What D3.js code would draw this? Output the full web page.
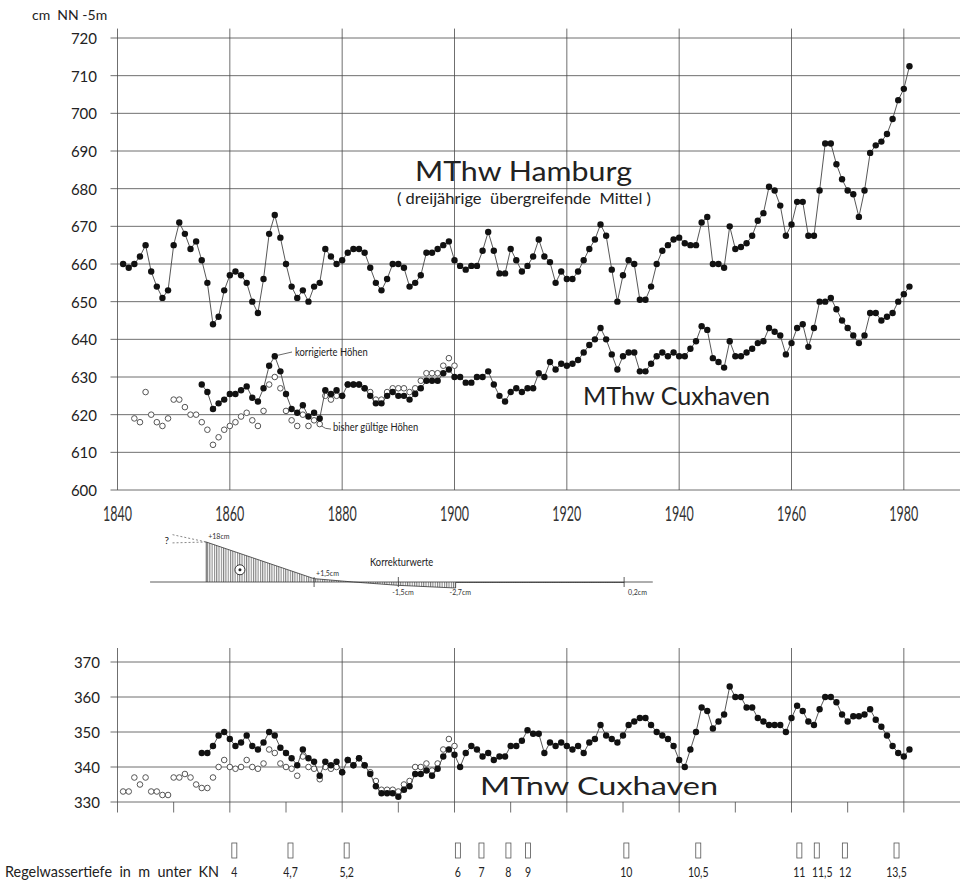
<!DOCTYPE html>
<html><head><meta charset="utf-8">
<script src="https://cdn.jsdelivr.net/npm/d3@7"></script>
<style>body{margin:0;background:#fff}svg{display:block}</style>
</head><body>
<svg id="chart" width="965" height="888"></svg>
<script>
// Mean tidal high water Hamburg (3-year running means), cm above NN-5m
const hamburgStart = 1841;
const hamburgHW = [
  660,659,660,662,665,658,654,651,653,665,
  671,668,664,666,661,655,644,646,653,657,
  658,657,655,650,647,656,668,673,667,660,
  654,651,653,650,654,655,664,662,660,661,
  663,664,664,663,659,655,653,656,660,660,
  659,654,655,657,663,663,664,665,666,661,
  659.5,658.5,659.5,659.5,663.5,668.5,663.5,657.5,657.5,664,
  661,658,659.5,662,666.5,662,660.5,655,658,656,
  656,658,661,664,666.5,670.5,667.5,658.5,650,657,
  661,660,650.5,650.5,654,660,663.5,665,666.5,667,
  665.5,665,665,671,672.5,660,660,659,670,664,
  664.5,665.5,667.5,671.5,673.5,680.5,679.5,675.5,667.5,670.5,
  676.5,676.5,667.5,667.5,679.5,692,692,686.5,682.5,679.5,
  678.5,672.5,679.5,689.5,691.5,692.5,694.5,698.5,703.5,706.5,
  712.5
];
// Mean tidal high water Cuxhaven, corrected heights
const cuxHWStart = 1855;
const cuxHW = [
  628,626,621.5,623,624,625.5,625.5,626.5,627.5,624.5,
  623.5,627,633,635.5,631.5,625.5,621.5,620.5,622.5,619.5,
  620.5,619,626.5,625.5,626.5,625,628,628,628,627,
  625,623,623,625,626,625,625,624,625.5,627,
  629,629,629,631,632,630,630,628.5,628.5,630,
  630,631.5,628,625,623.5,626,627,626,627,627,
  631,630,634,632,633.5,633,633.5,634.5,636.5,638.5,
  640,643,640,636,632,635.5,636.5,636.5,631.5,631.5,
  633.5,635.5,636.5,635.5,636.5,635.5,635.5,637.5,639.5,643.5,
  642.5,635,634,632.5,639.5,635.5,635.5,636.5,637.5,639,
  639.5,643,642,641,636,639,643,644,638,643,
  650,650,651,648,645,643,641,639,641,647,
  647,645,646,647,650,652,654
];
// Mean tidal high water Cuxhaven, previously valid heights
const cuxHWOldStart = 1843;
const cuxHWOld = [
  619,618,626,620,618,617,619,624,624,622,
  620,620,618,616,612,614,616,617,618,619.5,
  620.5,618.5,617,621,628,630,627,621,618.5,617,
  620,617,618.5,617.5,625,624,625,625,628,628,
  628,627,626,624,624,626,627,627,627,626,
  627,629,631,631,631,633,635,633
];
// Mean tidal low water Cuxhaven, corrected heights
const cuxNWStart = 1855;
const cuxNW = [
  344,344,346,349,350,348,346,347,349,346,
  345,347,350,349,345.5,344,342.5,340.5,345,342.5,
  341.5,337.5,341.5,340.5,341.5,338.5,342,340.5,342.5,340.5,
  338,334.5,332.5,332.5,332.5,331.5,333.5,334.5,338,338,
  339,337.5,339.5,343,345,343.5,340,344,346,345,
  343,344,342,343,343,346,346,347.5,350.5,349.5,
  349.5,344,347,346,347,346,345,346,344,347,
  348,352,349,348,347,349,352,353,354,354,
  352,350,349,348,346,342,340,345,350,357,
  356,351,353,355,363,360,360,357,357,354,
  353,352,352,352,350,354,357.5,356,353,352,
  356.5,360,360,358.5,355,353,354.5,354.5,355,356.5,
  353.5,351.5,349,346,344,343,345
];
// Mean tidal low water Cuxhaven, previously valid heights
const cuxNWOldStart = 1841;
const cuxNWOld = [
  333,333,337,335,337,333,333,332,332,337,
  337,338,337,335,334,334,337,340,342,340,
  339.5,340,342,340,339.5,341,345,344,341,340,
  339.5,337.5,343,340,339.5,336.5,340,339.5,340,338.5,
  342,340.5,342.5,340.5,338.5,336,333.5,333.5,333.5,333,
  335,336,340,340,341,339,341,345,348,346
];
// Correction values (cm) applied to the Cuxhaven gauge
const corrYears  = [1855.8, 1875, 1882, 1890, 1900.2, 1900.2, 1930.2];
const corrValues = [18, 1.5, 0, -1.5, -2.7, -0.2, -0.2];
const corrLabels = [
  {year:1855.8, value:18, text:"+18cm"},
  {year:1875, value:1.5, text:"+1,5cm"},
  {year:1890, value:-1.5, text:"-1,5cm"},
  {year:1900.2, value:-2.7, text:"-2,7cm"},
  {year:1930.2, value:-0.2, text:"0,2cm"}
];
// Regulation depth of the fairway (m below chart datum)
const depthYears  = [1860.8,1870.8,1880.8,1900.6,1904.8,1909.6,1913.1,1930.6,1943.4,1961.4,1964.5,1969.5,1978.7];
const depthLabels = ["4","4,7","5,2","6","7","8","9","10","10,5","11","11,5","12","13,5"];

const upperTicks = [600,610,620,630,640,650,660,670,680,690,700,710,720];
const lowerTicks = [330,340,350,360,370];
const yearTicks  = [1840,1860,1880,1900,1920,1940,1960,1980];
const decadeTicks = [1850,1870,1890,1910,1930,1950,1970];

const series = (start, vals) => vals.map((v, i) => ({year: start + i, value: v}));

const svg = d3.select("#chart");
const ink = "#222", gridCol = "#4a4a4a";
const numFont = "Lato, 'DejaVu Sans', sans-serif";

const x = d3.scaleLinear().domain([1840, 1990]).range([117.5, 960]);
const yU = d3.scaleLinear().domain([600, 720]).range([490, 38]);
const yL = d3.scaleLinear().domain([330, 370]).range([802, 662]);
const yC = d3.scaleLinear().domain([0, 18]).range([582, 542]);

// squeeze a text horizontally, like technical lettering
function condense(sel, f) {
  sel.each(function () {
    const w = this.getComputedTextLength();
    d3.select(this).attr("textLength", w * f).attr("lengthAdjust", "spacingAndGlyphs");
  });
}

// ---------- upper panel: high water ----------
const gU = svg.append("g");
gU.selectAll("line.h").data(upperTicks).join("line")
  .attr("x1", x(1840) - 7).attr("x2", x(1990))
  .attr("y1", d => yU(d)).attr("y2", d => yU(d))
  .attr("stroke", gridCol).attr("stroke-width", 0.8);
gU.selectAll("line.v").data(yearTicks).join("line")
  .attr("x1", d => x(d)).attr("x2", d => x(d))
  .attr("y1", yU(600)).attr("y2", yU(722.5))
  .attr("stroke", gridCol).attr("stroke-width", 0.8);
gU.selectAll("text.yt").data(upperTicks).join("text")
  .attr("x", 97).attr("y", d => yU(d) + 6)
  .attr("text-anchor", "end").attr("font-family", numFont).attr("font-size", 15)
  .attr("fill", ink).text(d => d);
gU.selectAll("text.xt").data(yearTicks).join("text")
  .attr("x", d => x(d)).attr("y", 521)
  .attr("text-anchor", "middle").attr("font-family", numFont).attr("font-size", 22)
  .attr("textLength", 29).attr("lengthAdjust", "spacingAndGlyphs")
  .attr("fill", "#333").text(d => d);
svg.append("text").attr("x", 32).attr("y", 20)
  .attr("font-family", numFont).attr("font-size", 14).attr("fill", ink)
  .attr("xml:space", "preserve").text("cm  NN -5m");

const lineU = d3.line().x(d => x(d.year)).y(d => yU(d.value));
const hh = series(hamburgStart, hamburgHW);
const ch = series(cuxHWStart, cuxHW);
const co = series(cuxHWOldStart, cuxHWOld);

gU.selectAll("circle.old").data(co).join("circle")
  .attr("cx", d => x(d.year)).attr("cy", d => yU(d.value)).attr("r", 2.8)
  .attr("fill", "#fff").attr("stroke", "#555").attr("stroke-width", 1);
[hh, ch].forEach(s => {
  gU.append("path").datum(s).attr("d", lineU)
    .attr("fill", "none").attr("stroke", "#444").attr("stroke-width", 0.9);
  gU.append("g").selectAll("circle").data(s).join("circle")
    .attr("cx", d => x(d.year)).attr("cy", d => yU(d.value)).attr("r", 3.2)
    .attr("fill", "#111");
});

gU.append("text").attr("x", 415).attr("y", 181)
  .attr("font-family", numFont).attr("font-size", 26).attr("fill", ink)
  .attr("textLength", 217).attr("lengthAdjust", "spacingAndGlyphs").text("MThw Hamburg");
gU.append("text").attr("x", 397).attr("y", 204)
  .attr("font-family", numFont).attr("font-size", 15).attr("fill", ink)
  .attr("textLength", 254).attr("lengthAdjust", "spacingAndGlyphs")
  .attr("xml:space", "preserve").text("( dreijährige  übergreifende  Mittel )");
gU.append("text").attr("x", 583).attr("y", 405)
  .attr("font-family", numFont).attr("font-size", 25).attr("fill", ink)
  .attr("textLength", 187).attr("lengthAdjust", "spacingAndGlyphs").text("MThw Cuxhaven");

// annotation leaders
const pk = ch.find(d => d.year === 1868);
gU.append("line").attr("x1", x(pk.year) + 3).attr("y1", yU(pk.value) - 1)
  .attr("x2", 292).attr("y2", 352).attr("stroke", "#444").attr("stroke-width", 0.8);
gU.append("text").attr("x", 295).attr("y", 356)
  .attr("font-family", numFont).attr("font-size", 11).attr("fill", ink)
  .text("korrigierte Höhen").call(condense, 0.85);
const lo = co.find(d => d.year === 1876);
gU.append("path")
  .attr("d", `M${x(lo.year) + 2},${yU(lo.value) + 2} Q${x(lo.year) + 5},${yU(lo.value) + 5} 331,${yU(lo.value) + 5}`)
  .attr("fill", "none").attr("stroke", "#444").attr("stroke-width", 0.8);
gU.append("text").attr("x", 333).attr("y", 431)
  .attr("font-family", numFont).attr("font-size", 11).attr("fill", ink)
  .text("bisher gültige Höhen").call(condense, 0.85);

// ---------- correction strip ----------
const gC = svg.append("g");
const defs = svg.append("defs");
const pat = defs.append("pattern").attr("id", "hatch").attr("patternUnits", "userSpaceOnUse")
  .attr("width", 2.3).attr("height", 10);
pat.append("line").attr("x1", 0.6).attr("x2", 0.6).attr("y1", 0).attr("y2", 10)
  .attr("stroke", "#333").attr("stroke-width", 0.75);
const corr = corrYears.map((yv, i) => ({year: yv, value: corrValues[i]}));
gC.append("line").attr("x1", x(1845.8)).attr("x2", x(1935.3))
  .attr("y1", yC(0)).attr("y2", yC(0)).attr("stroke", "#333").attr("stroke-width", 0.8);
gC.append("path").datum(corr)
  .attr("d", d3.area().x(d => x(d.year)).y0(yC(0)).y1(d => yC(d.value)))
  .attr("fill", "url(#hatch)").attr("stroke", "none");
gC.append("path").datum(corr)
  .attr("d", d3.line().x(d => x(d.year)).y(d => yC(d.value)))
  .attr("fill", "none").attr("stroke", "#333").attr("stroke-width", 0.8);
gC.append("line").attr("x1", x(corr[0].year)).attr("x2", x(corr[0].year))
  .attr("y1", yC(0)).attr("y2", yC(corr[0].value)).attr("stroke", "#333").attr("stroke-width", 0.8);
[1875, 1890, 1930.2].forEach(t => {
  gC.append("line").attr("x1", x(t)).attr("x2", x(t)).attr("y1", yC(0) - 5).attr("y2", yC(0) + 5)
    .attr("stroke", "#333").attr("stroke-width", 0.8);
});
// uncertain extrapolation before the first correction value
[21.3, 17.6].forEach(v => {
  gC.append("line").attr("x1", x(1849.8)).attr("y1", yC(v))
    .attr("x2", x(corr[0].year)).attr("y2", yC(corr[0].value))
    .attr("stroke", "#555").attr("stroke-width", 0.7).attr("stroke-dasharray", "2,2");
});
gC.append("text").attr("x", x(1849.8) - 8).attr("y", yC(19) + 4)
  .attr("font-family", numFont).attr("font-size", 10).attr("fill", ink).text("?");
gC.append("circle").attr("cx", x(1861.8)).attr("cy", yC(5.5)).attr("r", 5)
  .attr("fill", "#fff").attr("stroke", "#222").attr("stroke-width", 0.9);
gC.append("circle").attr("cx", x(1861.8)).attr("cy", yC(5.5)).attr("r", 1.5).attr("fill", "#222");
gC.selectAll("text.cl").data(corrLabels).join("text")
  .attr("x", d => d.value > 0 ? x(d.year) + 2 : x(d.year) + (d.text === "0,2cm" ? 4 : -6))
  .attr("y", d => d.value > 0 ? yC(d.value) - 3 : 595)
  .attr("font-family", numFont).attr("font-size", 7).attr("fill", "#333")
  .text(d => d.text);
gC.append("text").attr("x", 370).attr("y", 566)
  .attr("font-family", numFont).attr("font-size", 11).attr("fill", ink)
  .text("Korrekturwerte").call(condense, 0.85);

// ---------- lower panel: low water ----------
const gL = svg.append("g");
gL.selectAll("line.h").data(lowerTicks).join("line")
  .attr("x1", x(1840) - 7).attr("x2", x(1990))
  .attr("y1", d => yL(d)).attr("y2", d => yL(d))
  .attr("stroke", gridCol).attr("stroke-width", 0.8);
gL.selectAll("line.v").data(yearTicks).join("line")
  .attr("x1", d => x(d)).attr("x2", d => x(d))
  .attr("y1", yL(327)).attr("y2", yL(374))
  .attr("stroke", gridCol).attr("stroke-width", 0.8);
gL.selectAll("line.m").data(decadeTicks).join("line")
  .attr("x1", d => x(d)).attr("x2", d => x(d))
  .attr("y1", yL(330)).attr("y2", yL(327))
  .attr("stroke", gridCol).attr("stroke-width", 0.8);
gL.selectAll("text.yt").data(lowerTicks).join("text")
  .attr("x", 100).attr("y", d => yL(d) + 6)
  .attr("text-anchor", "end").attr("font-family", numFont).attr("font-size", 15)
  .attr("fill", ink).text(d => d);

const lineL = d3.line().x(d => x(d.year)).y(d => yL(d.value));
const nw = series(cuxNWStart, cuxNW);
const nwo = series(cuxNWOldStart, cuxNWOld);
gL.selectAll("circle.old").data(nwo).join("circle")
  .attr("cx", d => x(d.year)).attr("cy", d => yL(d.value)).attr("r", 2.8)
  .attr("fill", "#fff").attr("stroke", "#555").attr("stroke-width", 1);
gL.append("path").datum(nw).attr("d", lineL)
  .attr("fill", "none").attr("stroke", "#444").attr("stroke-width", 0.9);
gL.append("g").selectAll("circle").data(nw).join("circle")
  .attr("cx", d => x(d.year)).attr("cy", d => yL(d.value)).attr("r", 3.2).attr("fill", "#111");
gL.append("text").attr("x", 480).attr("y", 795)
  .attr("font-family", numFont).attr("font-size", 25).attr("fill", ink)
  .attr("textLength", 238).attr("lengthAdjust", "spacingAndGlyphs").text("MTnw Cuxhaven");

// ---------- fairway depth row ----------
const gD = svg.append("g");
gD.selectAll("rect").data(depthYears).join("rect")
  .attr("x", d => x(d) - 2.5).attr("y", 843).attr("width", 5).attr("height", 15)
  .attr("fill", "none").attr("stroke", "#555").attr("stroke-width", 0.8);
const depthText = gD.selectAll("text").data(depthYears).join("text")
  .attr("x", d => x(d)).attr("y", 877).attr("text-anchor", "middle")
  .attr("font-family", numFont).attr("font-size", 14).attr("fill", ink)
  .text((d, i) => depthLabels[i]);
// push neighbouring depth labels apart (by their full width) where they would touch
let prevRight = -Infinity;
depthText.each(function () {
  const w = this.getComputedTextLength();
  const cx = +this.getAttribute("x");
  const shift = Math.max(0, prevRight + 1 - (cx - w / 2));
  this.setAttribute("x", cx + shift);
  prevRight = cx + shift + w / 2;
});
depthText.call(condense, 0.75);
svg.append("text").attr("x", 5).attr("y", 877)
  .attr("font-family", numFont).attr("font-size", 15).attr("fill", ink)
  .attr("textLength", 214).attr("lengthAdjust", "spacingAndGlyphs")
  .attr("xml:space", "preserve").text("Regelwassertiefe  in  m  unter  KN");
</script>
</body></html>
